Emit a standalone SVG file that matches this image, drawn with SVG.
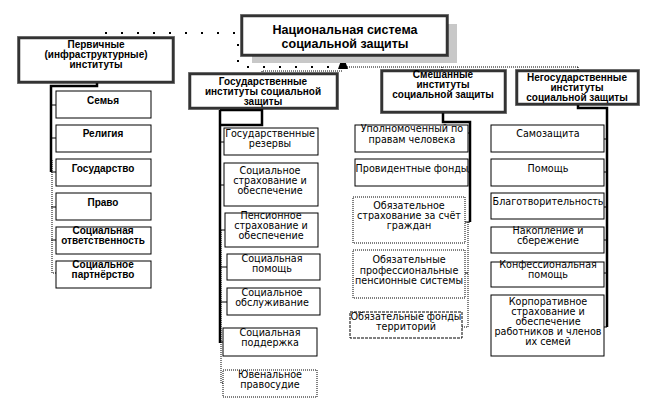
<svg xmlns="http://www.w3.org/2000/svg" width="669" height="412" viewBox="0 0 669 412">
<style>
text{font-family:"Liberation Sans",Arial,sans-serif;fill:#000;text-anchor:middle}
.b{font-weight:bold;font-size:10px}
.t{font-family:"DejaVu Sans","Liberation Sans",sans-serif;font-size:9.6px}
.h{font-weight:bold;font-size:12.5px}
.frame{fill:#fff;stroke:#333;stroke-width:2.5}
.outer{fill:none;stroke:#000;stroke-width:1;stroke-dasharray:1 1}
.box{fill:#fff;stroke:#000;stroke-width:1}
.dbox{fill:#fff;stroke:#000;stroke-width:1;stroke-dasharray:1 1}
.dash{fill:#fff;stroke:#000;stroke-width:1;stroke-dasharray:3 1}
.thick{fill:none;stroke:#000;stroke-width:2.5}
.thin{fill:none;stroke:#000;stroke-width:1;stroke-dasharray:1 1}
.sparse{fill:none;stroke:#000;stroke-width:2;stroke-dasharray:2 14}
.tick{fill:none;stroke:#000;stroke-width:1}
</style>
<rect width="669" height="412" fill="#fff"/>
<g id="connectors">
<path class="sparse" d="M105,33 H238 V67 H336"/>
<path class="thin" d="M262,74 V71 H343"/>
<path class="thin" d="M343,67 H578 M442,67 V71 M578,67 V71"/>
<polygon points="343,55 338,69 348,69" fill="#000"/>
<path class="thick" d="M97,82 V86 H51 V172"/>
<path class="thin" d="M52,160 V273 H56"/>
<path class="tick" d="M51,105 H56 M51,138 H56 M51,172 H56 M51,207 H56 M51,240 H56"/>
<path class="thick" d="M262,108 V125 H221 M220,110 H262 M220,110 V343"/>
<path class="thin" d="M221,230 V383 H223"/>
<path class="tick" d="M220,142 H224 M220,185 H224 M220,230 H225 M220,267 H227 M220,302 H227 M220,342 H223"/>
<path class="thick" d="M443,112 V122 H470 V222"/>
<path class="thin" d="M468,222 V327 H462"/>
<path class="tick" d="M470,133 H468 M470,172 H468 M470,222 H465 M468,273 H465"/>
<path class="thick" d="M578,104 V108 H607 V327"/>
<path class="tick" d="M607,139 H604 M607,172 H604 M607,207 H604 M607,240 H604 M607,273 H604 M607,327 H604"/>
</g>
<g id="main">
<rect x="252" y="24" width="205" height="39" fill="#c8c8c8"/>
<rect class="outer" x="240.5" y="14.5" width="208" height="42"/>
<rect class="frame" x="242" y="16" width="205" height="39"/>
<text class="h" x="345" y="34">Национальная система</text>
<text class="h" x="345" y="48">социальной защиты</text>
</g>
<g id="primary">
<rect class="outer" x="17.5" y="36.5" width="157" height="47"/>
<rect class="frame" x="19" y="38" width="154" height="44"/>
<text class="b" x="96" y="48">Первичные</text>
<text class="b" x="96" y="58">(инфраструктурные)</text>
<text class="b" x="96" y="68">институты</text>
</g>
<g id="p1"><rect class="box" x="56" y="91" width="95" height="27"/><text class="b" x="103" y="104">Семья</text></g>
<g id="p2"><rect class="box" x="56" y="125" width="95" height="27"/><text class="b" x="103" y="137">Религия</text></g>
<g id="p3"><rect class="box" x="56" y="159" width="95" height="27"/><text class="b" x="103" y="172">Государство</text></g>
<g id="p4"><rect class="box" x="56" y="193" width="95" height="27"/><text class="b" x="103" y="206">Право</text></g>
<g id="p5"><rect class="box" x="56" y="227" width="95" height="27"/><text class="b" x="103" y="234">Социальная</text><text class="b" x="103" y="244">ответственность</text></g>
<g id="p6"><rect class="box" x="56" y="261" width="95" height="27"/><text class="b" x="103" y="268">Социальное</text><text class="b" x="103" y="278">партнёрство</text></g>
<g id="state">
<rect class="outer" x="188.5" y="72.5" width="150" height="37"/>
<rect class="frame" x="190" y="74" width="147" height="34"/>
<text class="b" x="263" y="85">Государственные</text>
<text class="b" x="263" y="95">институты социальной</text>
<text class="b" x="263" y="105">защиты</text>
</g>
<g id="s1"><rect class="box" x="224" y="128" width="94" height="27"/><text class="t" x="270" y="137">Государственные</text><text class="t" x="270" y="147">резервы</text></g>
<g id="s2"><rect class="box" x="224" y="163" width="94" height="43"/><text class="t" x="270" y="174">Социальное</text><text class="t" x="270" y="184">страхование и</text><text class="t" x="270" y="194">обеспечение</text></g>
<g id="s3"><rect class="box" x="225" y="213" width="93" height="34"/><text class="t" x="271" y="219">Пенсионное</text><text class="t" x="271" y="229">страхование и</text><text class="t" x="271" y="239">обеспечение</text></g>
<g id="s4"><rect class="box" x="227" y="254" width="93" height="26"/><text class="t" x="272" y="262">Социальная</text><text class="t" x="272" y="272">помощь</text></g>
<g id="s5"><rect class="box" x="227" y="288" width="93" height="27"/><text class="t" x="272" y="296">Социальное</text><text class="t" x="272" y="306">обслуживание</text></g>
<g id="s6"><rect class="box" x="223" y="328" width="94" height="28"/><text class="t" x="270" y="336">Социальная</text><text class="t" x="270" y="346">поддержка</text></g>
<g id="s7"><rect class="dbox" x="223" y="370" width="94" height="27"/><text class="t" x="270" y="378">Ювенальное</text><text class="t" x="270" y="388">правосудие</text></g>
<g id="mixed">
<rect class="outer" x="380.5" y="69.5" width="126" height="44"/>
<rect class="frame" x="382" y="71" width="123" height="41"/>
<text class="b" x="443" y="78">Смешанные</text>
<text class="b" x="443" y="88">институты</text>
<text class="b" x="443" y="98">социальной защиты</text>
</g>
<g id="m1"><rect class="box" x="355" y="125" width="113" height="27"/><text class="t" x="412" y="132">Уполномоченный по</text><text class="t" x="412" y="143">правам человека</text></g>
<g id="m2"><rect class="box" x="355" y="159" width="113" height="27"/><text class="t" x="412" y="172">Провидентные фонды</text></g>
<g id="m3"><rect class="dbox" x="353" y="197" width="112" height="46"/><text class="t" x="409" y="209">Обязательное</text><text class="t" x="409" y="219">страхование за счёт</text><text class="t" x="409" y="229">граждан</text></g>
<g id="m4"><rect class="dbox" x="353" y="250" width="112" height="48"/><text class="t" x="409" y="263">Обязательные</text><text class="t" x="409" y="274">профессиональные</text><text class="t" x="409" y="284">пенсионные системы</text></g>
<g id="m5"><rect class="dash" x="350" y="312" width="112" height="26"/><text class="t" x="406" y="320">Обязательные фонды</text><text class="t" x="406" y="330">территорий</text></g>
<g id="nonstate">
<rect class="outer" x="515.5" y="69.5" width="124" height="36"/>
<rect class="frame" x="517" y="71" width="121" height="33"/>
<text class="b" x="577" y="81">Негосударственные</text>
<text class="b" x="577" y="91">институты</text>
<text class="b" x="577" y="101">социальной защиты</text>
</g>
<g id="n1"><rect class="box" x="491" y="125" width="113" height="27"/><text class="t" x="548" y="137">Самозащита</text></g>
<g id="n2"><rect class="box" x="491" y="159" width="113" height="27"/><text class="t" x="548" y="172">Помощь</text></g>
<g id="n3"><rect class="box" x="491" y="193" width="113" height="26"/><text class="t" x="548" y="205">Благотворительность</text></g>
<g id="n4"><rect class="box" x="491" y="227" width="113" height="26"/><text class="t" x="548" y="234">Накопление и</text><text class="t" x="548" y="244">сбережение</text></g>
<g id="n5"><rect class="box" x="491" y="262" width="113" height="25"/><text class="t" x="548" y="268">Конфессиональная</text><text class="t" x="548" y="278">помощь</text></g>
<g id="n6"><rect class="box" x="491" y="295" width="113" height="61"/><text class="t" x="548" y="305">Корпоративное</text><text class="t" x="548" y="315">страхование и</text><text class="t" x="548" y="325">обеспечение</text><text class="t" x="548" y="335">работников и членов</text><text class="t" x="548" y="345">их   семей</text></g>
</svg>
